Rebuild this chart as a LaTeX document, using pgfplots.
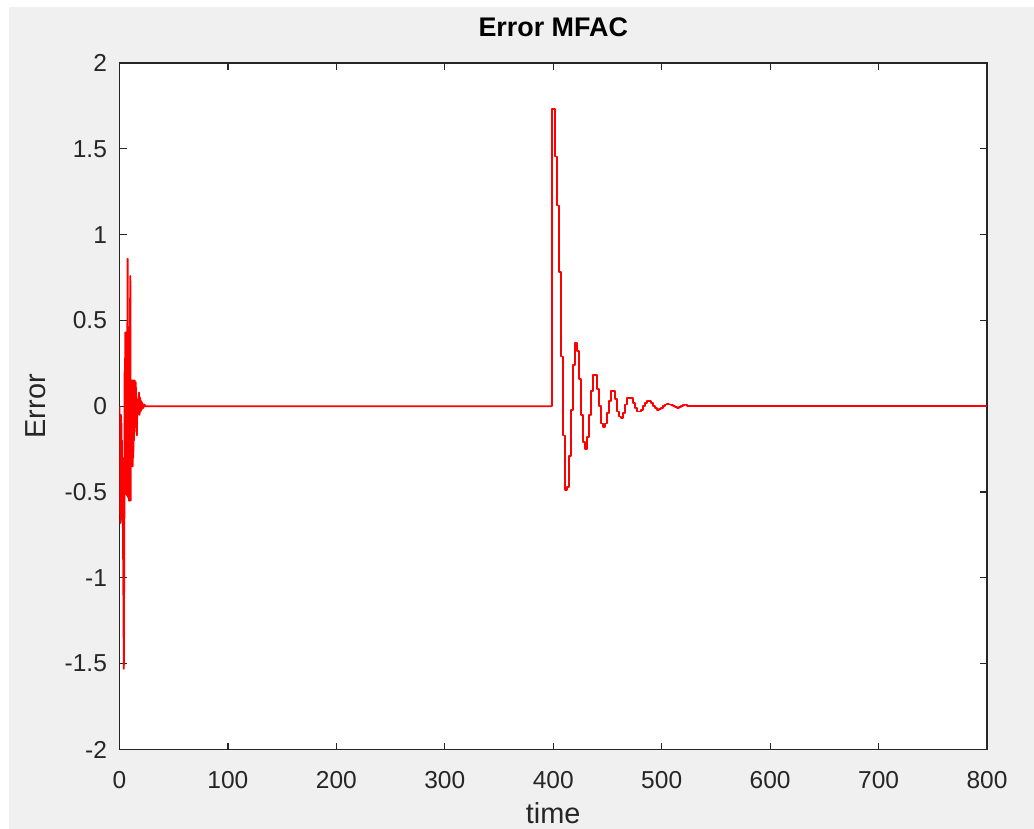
\documentclass[border=0pt]{standalone}
\usepackage{fontspec}
\setmainfont{Liberation Sans}
\usepackage{pgfplots}
\pgfplotsset{compat=1.18}
\definecolor{figbg}{RGB}{240,240,240}
\definecolor{axgray}{RGB}{38,38,38}
\definecolor{mred}{RGB}{255,0,0}
\begin{document}
\begin{tikzpicture}
\fill[white] (0,0) rectangle (517bp,414.5bp);
\fill[figbg] (4.5bp,0) rectangle (517bp,411bp);
\begin{axis}[
  at={(59.75bp,39.75bp)}, anchor=south west,
  scale only axis, width=433.75bp, height=343.25bp,
  xmin=0, xmax=800, ymin=-2, ymax=2,
  xtick={0,100,...,800},
  ytick={-2,-1.5,-1,-0.5,0,0.5,1,1.5,2},
  tick align=inside, major tick length=3.5bp,
  axis line style={draw=axgray, line width=0.8bp},
  every tick/.style={draw=axgray, line width=0.6bp},
  axis background/.style={fill=white},
  /pgf/number format/assume math mode=true,
  ticklabel style={font=\fontsize{12.3}{14}\selectfont, text=axgray, inner sep=0pt},
  xticklabel style={anchor=base, yshift=-19.25bp},
  yticklabel style={anchor=east, xshift=-6.1bp},
  title={Error MFAC},
  title style={font=\fontsize{13.5}{16}\selectfont\bfseries, text=black, at={(rel axis cs:0.5,1)}, anchor=base, yshift=7.5bp},
  xlabel={time},
  xlabel style={font=\fontsize{14.5}{17}\selectfont, text=axgray, at={(rel axis cs:0.5,-0.108)}, anchor=base},
  ylabel={Error},
  ylabel style={font=\fontsize{14.5}{17}\selectfont, text=axgray, at={(rel axis cs:-0.0965,0.5)}, anchor=center},
]
% initial transient
\addplot[mred, line width=0.9bp, line join=round] coordinates {
(0,0) (0.25,-0.4) (0.5,-0.1) (0.75,-0.6) (1,-0.68) (1.25,-0.05) (1.5,-0.66) (1.75,-0.1)
(2,-0.66) (2.25,-0.2) (2.5,-0.6) (2.75,-0.3) (3,-0.6) (3.5,-1.0)
(4,-1.53) (4.5,-0.6) (4.75,0.2) (5,-0.5) (5.25,0.43) (5.5,-0.51) (5.75,0.43) (6,-0.51)
(6.25,0.43) (6.5,-0.51) (6.75,0.43) (7,-0.52) (7.25,0.43) (7.5,0.86)
(7.75,-0.53) (8,0.43) (8.25,-0.53) (8.5,0.43) (8.75,-0.55) (9,0.43) (9.25,-0.55) (9.5,0.40)
(10,0.76) (10.25,-0.55) (10.5,0.15) (10.75,-0.35) (11,0.15) (11.25,-0.35) (11.5,0.15)
(11.75,-0.35) (12,0.15) (12.25,-0.35) (12.5,0.15) (12.75,-0.3) (13,0.15) (13.25,-0.2)
(13.5,0.15) (13.75,-0.15) (14,0.15) (14.5,-0.1) (15,0.14) (15.5,-0.05)
(16,-0.17) (16.5,0.04) (17,-0.05) (17.5,0.05) (18,0.08) (18.5,-0.05) (19,0.05) (19.5,-0.03)
(20,0.03) (20.5,-0.02) (21,0.02) (22,-0.01) (23,0.01) (24,0) (398,0)
};
% disturbance at t=400
\addplot[mred, line width=0.9bp, const plot, line join=round] coordinates {
(398,0) (399.2,1.73) (401.6,1.455) (403.4,1.17) (405.3,0.78) (407.2,0.29) (409.0,-0.17)
(410.8,-0.49) (412.7,-0.47) (414.5,-0.29) (416.4,-0.02) (418.2,0.24) (420.0,0.37)
(421.9,0.32) (423.7,0.16) (425.6,-0.05) (427.4,-0.21) (429.3,-0.25) (431.1,-0.18)
(433.0,-0.05) (434.8,0.09) (436.7,0.18) (438.5,0.18) (440.4,0.10) (442.2,0.0)
(444.1,-0.10) (445.9,-0.12) (447.8,-0.10) (449.6,-0.04) (451.5,0.03) (453.3,0.09)
(455.2,0.09) (457.0,0.04) (458.9,-0.03) (460.7,-0.06) (462.6,-0.07) (464.4,-0.04)
(466.3,0.01) (468.1,0.05) (470.0,0.05) (471.8,0.05) (473.7,0.02) (475.5,-0.01)
(477.4,-0.03) (479.2,-0.03) (481.1,-0.02) (482.9,0.0) (484.8,0.02) (486.6,0.03)
(488.5,0.03) (490.3,0.02) (492.2,0.0) (494.0,-0.01) (495.9,-0.02) (497.7,-0.015)
(499.6,-0.01) (501.4,0.0) (503.3,0.01) (505.1,0.015) (507.0,0.01) (508.8,0.005)
(510.7,0.0) (512.5,-0.005) (514.4,-0.01) (516.2,-0.005) (518.1,0.0) (520.0,0.005)
(521.8,0.01) (523.7,0.0) (800,0)
};
\end{axis}
\pgfresetboundingbox
\useasboundingbox (0,0) rectangle (517bp,414.5bp);
\end{tikzpicture}
\end{document}
